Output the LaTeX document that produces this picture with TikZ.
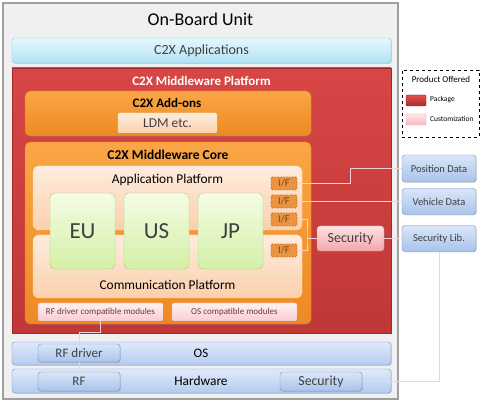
\documentclass[tikz,border=0pt]{standalone}
\usepackage{fontspec}
\setmainfont{Carlito}
\usepackage{tikz}
\usetikzlibrary{calc}
\usetikzlibrary{shadows}
\newcommand{\txtsz}[1]{\fontsize{#1}{#1}\selectfont}
\definecolor{txtGray}{HTML}{404040}
\definecolor{connPink}{HTML}{F2D2D6}
\tikzstyle{blk} = [rectangle, rounded corners=3pt, inner sep=0pt, anchor=center, text=txtGray]
\tikzstyle{shd} = [drop shadow={shadow xshift=0.8pt, shadow yshift=-0.8pt, opacity=0.3}]
\tikzstyle{obu} = [blk, rounded corners=0pt, draw=gray!75, line width=1.1pt, fill=gray!12]
\tikzstyle{cyanbar} = [blk, shd, draw={rgb,255:red,134;green,201;blue,223}, top color={rgb,255:red,230;green,247;blue,253}, bottom color={rgb,255:red,178;green,226;blue,243}]
\tikzstyle{redbox} = [blk, rounded corners=0pt, shd, draw={rgb,255:red,160;green,42;blue,42}, top color={rgb,255:red,216;green,70;blue,70}, bottom color={rgb,255:red,192;green,55;blue,55}]
\tikzstyle{orangebox} = [blk, shd, rounded corners=5pt, draw={rgb,255:red,226;green,122;blue,16}, top color={rgb,255:red,250;green,166;blue,70}, bottom color={rgb,255:red,238;green,137;blue,34}]
\tikzstyle{peachbox} = [blk, rounded corners=6pt, draw={rgb,255:red,252;green,224;blue,198}, top color={rgb,255:red,254;green,236;blue,222}, bottom color={rgb,255:red,251;green,208;blue,172}]
\tikzstyle{greenbox} = [blk, rounded corners=5pt, draw={rgb,255:red,168;green,204;blue,120}, top color={rgb,255:red,244;green,252;blue,230}, bottom color={rgb,255:red,212;green,240;blue,166}]
\tikzstyle{ifbox} = [blk, rounded corners=1pt, dotted, line width=0.9pt, draw={rgb,255:red,170;green,88;blue,20}, fill={rgb,255:red,234;green,148;blue,66}, minimum width=26pt, minimum height=13pt, font=\txtsz{10.5}, text={rgb,255:red,120;green,70;blue,30}]
\tikzstyle{pinkbox} = [blk, shd, draw={rgb,255:red,232;green,141;blue,147}, top color={rgb,255:red,253;green,226;blue,228}, bottom color={rgb,255:red,244;green,166;blue,171}]
\tikzstyle{modbox} = [blk, rounded corners=2pt, shd, draw={rgb,255:red,237;green,176;blue,181}, top color={rgb,255:red,255;green,241;blue,241}, bottom color={rgb,255:red,249;green,205;blue,208}, minimum width=125pt, minimum height=18pt, font=\txtsz{9}, text={rgb,255:red,107;green,58;blue,58}]
\tikzstyle{bluebox} = [blk, shd, draw={rgb,255:red,110;green,142;blue,196}, top color={rgb,255:red,218;green,230;blue,249}, bottom color={rgb,255:red,168;green,195;blue,235}]
\tikzstyle{bluebar} = [bluebox, top color={rgb,255:red,224;green,234;blue,250}, bottom color={rgb,255:red,180;green,203;blue,238}]
\tikzstyle{conn} = [-, draw=connPink, line width=0.8pt]

\begin{document}
\begin{tikzpicture}[x=1pt, y=-1pt]
\useasboundingbox (0,0) rectangle (480,403);
% on-board unit
\node [obu, minimum width=395pt, minimum height=396pt] (obu) at (200.5,201) {};
\node [font=\txtsz{18}, text=black] (obuT) at (200.5,19) {On-Board Unit};
\node [cyanbar, minimum width=379pt, minimum height=25pt, font=\txtsz{14}] (apps) at (201.5,50.5) {C2X Applications};
% middleware platform
\node [redbox, minimum width=379pt, minimum height=265pt] (mwp) at (201.5,200.5) {};
\node [font=\bfseries\txtsz{13}, text=white] (mwpT) at (201.5,81) {C2X Middleware Platform};
\node [orangebox, minimum width=286pt, minimum height=45pt] (addon) at (168,113.5) {};
\node [font=\bfseries\txtsz{13}, text=black] (addonT) at (167,103) {C2X Add-ons};
\node [peachbox, rounded corners=2pt, shd, minimum width=99pt, minimum height=20pt, font=\txtsz{13.5}] (ldm) at (167.5,123) {LDM etc.};
\node [orangebox, minimum width=286pt, minimum height=182pt] (core) at (168,233) {};
\node [font=\bfseries\txtsz{13.5}, text=black] (coreT) at (168,155) {C2X Middleware Core};
\node [peachbox, minimum width=269pt, minimum height=64pt] (appP) at (167.5,198) {};
\node [font=\txtsz{13.4}] (appPT) at (167.5,180) {Application Platform};
\node [peachbox, minimum width=269pt, minimum height=63pt] (comP) at (167.5,266.5) {};
\node [font=\txtsz{13.4}] (comPT) at (167.5,285) {Communication Platform};
\node [greenbox, minimum width=65pt, minimum height=76pt, font=\txtsz{23}] (eu) at (82.5,231) {EU};
\node [greenbox, minimum width=65pt, minimum height=76pt, font=\txtsz{23}] (us) at (156.5,231) {US};
\node [greenbox, minimum width=65pt, minimum height=76pt, font=\txtsz{23}] (jp) at (230.5,231) {JP};
\node [ifbox] (if1) at (284,183.5) {I/F};
\node [ifbox] (if2) at (284,201.5) {I/F};
\node [ifbox] (if3) at (284,219.5) {I/F};
\node [ifbox] (if4) at (284,250.5) {I/F};
\node [modbox] (rfComp) at (100.5,312) {RF driver compatible modules};
\node [modbox] (osComp) at (234.5,312) {OS compatible modules};
\node [pinkbox, minimum width=67pt, minimum height=25pt, font=\txtsz{14}] (secMid) at (350.5,238.5) {Security};
% os and hardware
\node [bluebar, minimum width=379pt, minimum height=23pt] (os) at (201.5,353.5) {};
\node [font=\txtsz{13}] (osT) at (201,353.5) {OS};
\node [bluebar, minimum width=379pt, minimum height=24pt] (hw) at (201.5,381) {};
\node [font=\txtsz{13.4}] (hwT) at (201,381) {Hardware};
\node [bluebox, minimum width=82pt, minimum height=18pt, font=\txtsz{13}] (rfDrv) at (79,353) {RF driver};
\node [bluebox, minimum width=82pt, minimum height=19pt, font=\txtsz{13}] (rf) at (79,381.5) {RF};
\node [bluebox, minimum width=82pt, minimum height=19pt, font=\txtsz{13.8}] (hwSec) at (321,381.5) {Security};
% outside data
\node [bluebox, minimum width=74pt, minimum height=27pt, font=\txtsz{10.5}] (pos) at (439,168.5) {Position Data};
\node [bluebox, minimum width=74pt, minimum height=26pt, font=\txtsz{10.5}] (veh) at (439,201.5) {Vehicle Data};
\node [bluebox, minimum width=74pt, minimum height=26pt, font=\txtsz{10.5}] (secLib) at (439,238.5) {Security Lib.};
% legend
\node [rectangle, draw=black, dashed, line width=0.7pt, minimum width=77pt, minimum height=67pt] (lgd) at (440.5,103.5) {};
\node [font=\txtsz{9}, text=black] (lgdT) at (441,79) {Product Offered};
\node [blk, rounded corners=1pt, draw={rgb,255:red,154;green,32;blue,32}, top color={rgb,255:red,224;green,80;blue,80}, bottom color={rgb,255:red,178;green,42;blue,42}, minimum width=20pt, minimum height=11pt] (pkg) at (416,100.5) {};
\node [anchor=west, inner sep=0pt, font=\txtsz{7.5}, text=black] (pkgT) at (430,100) {Package};
\node [blk, rounded corners=1pt, draw={rgb,255:red,224;green,160;blue,165}, top color={rgb,255:red,255;green,232;blue,234}, bottom color={rgb,255:red,246;green,184;blue,188}, minimum width=20pt, minimum height=11pt] (cst) at (416,119.5) {};
\node [anchor=west, inner sep=0pt, font=\txtsz{7.5}, text=black] (cstT) at (430,119) {Customization};
% connectors
\coordinate (brk) at (307,238.5);
\draw [conn] (if1.east) -- (if1.east -| secMid.center) |- (pos.west);
\draw [conn] (if2.east) -- (veh.west);
\draw [conn] (if3.east) -| (brk) |- (if4.east);
\draw [conn] (brk) -- (secMid.west);
\draw [conn] (secMid.east) -- (secLib.west);
\draw [conn] (secLib.south) |- (hwSec.east);
\draw [conn] (rfComp.south) -- ++(0,11) -| (rfDrv.north);
\draw [conn] (rfDrv.south) -- (rf.north);
\end{tikzpicture}
\end{document}
